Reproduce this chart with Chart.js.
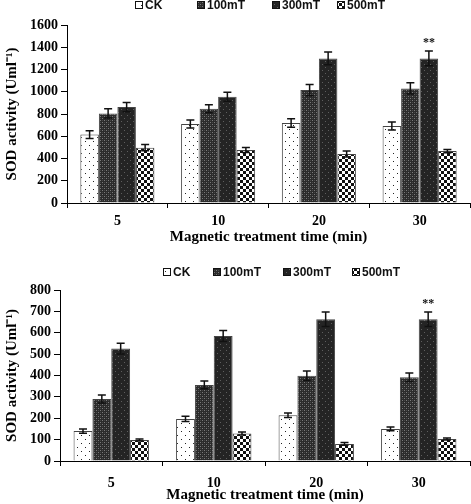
<!DOCTYPE html>
<html>
<head>
<meta charset="utf-8">
<script src="https://cdn.jsdelivr.net/npm/chart.js@4"></script>
<style>
  html, body { margin: 0; padding: 0; background: #fff; }
  .panel { position: relative; width: 471px; }
  #topWrap { height: 250px; }
  #bottomWrap { height: 254px; }
</style>
</head>
<body>
<div class="panel" id="topWrap"><canvas id="topChart"></canvas></div>
<div class="panel" id="bottomWrap"><canvas id="bottomChart"></canvas></div>
<script>
  const categories = ["5", "10", "20", "30"];
  const seriesNames = ["CK", "100mT", "300mT", "500mT"];

  // upper panel
  const topCK = [615, 710, 720, 692];
  const topCKErr = [35, 35, 38, 36];
  const top100 = [805, 847, 1015, 1030];
  const top100Err = [42, 36, 51, 51];
  const top300 = [862, 955, 1300, 1300];
  const top300Err = [42, 40, 57, 66];
  const top500 = [497, 476, 440, 467];
  const top500Err = [28, 22, 27, 15];
  const topTicks = [0, 200, 400, 600, 800, 1000, 1200, 1400, 1600];

  // lower panel
  const botCK = [140, 197, 214, 150];
  const botCKErr = [10, 12, 11, 9];
  const bot100 = [290, 356, 399, 392];
  const bot100Err = [19, 18, 22, 20];
  const bot300 = [526, 585, 663, 663];
  const bot300Err = [25, 26, 34, 34];
  const bot500 = [98, 129, 80, 103];
  const bot500Err = [5, 7, 6, 5];
  const botTicks = [0, 100, 200, 300, 400, 500, 600, 700, 800];

  const yTitle = "SOD activity (Uml\u207B\u00B9)";
  const xTitle = "Magnetic treatment time (min)";
  const starText = "**";

  function makePattern(size, draw) {
    const c = document.createElement("canvas");
    c.width = size;
    c.height = size;
    const g = c.getContext("2d");
    draw(g);
    return g.createPattern(c, "repeat");
  }

  const fills = [
    makePattern(8, (g) => {
      g.fillStyle = "#fff"; g.fillRect(0, 0, 8, 8);
      g.fillStyle = "#222"; g.fillRect(1, 1, 1, 1); g.fillRect(5, 5, 1, 1);
    }),
    makePattern(4, (g) => {
      g.fillStyle = "#2b2b2b"; g.fillRect(0, 0, 4, 4);
      g.fillStyle = "#7a7a7a"; g.fillRect(0, 0, 1, 1); g.fillRect(2, 2, 1, 1);
      g.fillStyle = "#474747"; g.fillRect(2, 0, 1, 1); g.fillRect(0, 2, 1, 1);
    }),
    makePattern(6, (g) => {
      g.fillStyle = "#242424"; g.fillRect(0, 0, 6, 6);
      g.fillStyle = "#5e5e5e"; g.fillRect(1, 1, 1, 1); g.fillRect(4, 4, 1, 1);
    }),
    makePattern(6, (g) => {
      g.fillStyle = "#fff"; g.fillRect(0, 0, 6, 6);
      g.fillStyle = "#111"; g.fillRect(0, 0, 3, 3); g.fillRect(3, 3, 3, 3);
    })
  ];

  const serif = "'Liberation Serif', 'Times New Roman', serif";

  const errorBars = {
    id: "errorBars",
    afterDatasetsDraw(chart, args, opts) {
      const { ctx } = chart;
      const y = chart.scales.y;
      ctx.save();
      ctx.strokeStyle = "#111";
      ctx.lineWidth = 1.5;
      chart.data.datasets.forEach((ds, i) => {
        chart.getDatasetMeta(i).data.forEach((bar, j) => {
          const hi = y.getPixelForValue(ds.data[j] + ds.errors[j]);
          const lo = y.getPixelForValue(ds.data[j] - ds.errors[j]);
          ctx.beginPath();
          ctx.moveTo(bar.x, hi); ctx.lineTo(bar.x, lo);
          ctx.moveTo(bar.x - 4, hi); ctx.lineTo(bar.x + 4, hi);
          ctx.moveTo(bar.x - 4, lo); ctx.lineTo(bar.x + 4, lo);
          ctx.stroke();
        });
      });
      ctx.fillStyle = "#111";
      ctx.font = "bold 12px " + serif;
      ctx.textAlign = "center";
      ctx.textBaseline = "bottom";
      (opts.marks || []).forEach((m) => {
        const ds = chart.data.datasets[m.dataset];
        const bar = chart.getDatasetMeta(m.dataset).data[m.index];
        const yy = y.getPixelForValue(ds.data[m.index] + ds.errors[m.index]);
        ctx.fillText(m.text, bar.x, yy - 2);
      });
      ctx.restore();
    }
  };

  const boxLegend = {
    id: "boxLegend",
    afterDraw(chart, args, opts) {
      const { ctx } = chart;
      ctx.save();
      ctx.font = "bold 12px 'Liberation Sans', Arial, sans-serif";
      ctx.textBaseline = "middle";
      ctx.textAlign = "left";
      chart.data.datasets.forEach((ds, i) => {
        const x = opts.xs[i];
        ctx.fillStyle = ds.backgroundColor;
        ctx.fillRect(x, opts.y - 3.5, 7, 7);
        ctx.strokeStyle = "#111";
        ctx.lineWidth = 1;
        ctx.strokeRect(x + 0.5, opts.y - 3.5, 7, 7);
        ctx.fillStyle = "#111";
        ctx.fillText(ds.label, x + 10, opts.y + 0.5);
      });
      ctx.restore();
    }
  };

  function buildDatasets(values, errors) {
    return seriesNames.map((name, i) => ({
      label: name,
      data: values[i],
      errors: errors[i],
      backgroundColor: fills[i],
      borderColor: "#444",
      borderWidth: 1,
      categoryPercentage: 0.735,
      barPercentage: 1
    }));
  }

  function buildOptions(cfg) {
    return {
      responsive: true,
      maintainAspectRatio: false,
      animation: false,
      layout: { padding: { top: cfg.top, right: 1, left: 0, bottom: 0 } },
      plugins: {
        legend: { display: false },
        tooltip: { enabled: false },
        errorBars: { marks: cfg.marks },
        boxLegend: { xs: cfg.legendXs, y: cfg.legendY }
      },
      scales: {
        x: {
          afterFit(scale) { scale.height = cfg.xHeight; },
          grid: { offset: true, drawOnChartArea: false, tickLength: 5, color: "#000" },
          border: { display: true, color: "#000", width: 1 },
          ticks: { color: "#000", padding: cfg.xPad, font: { family: serif, size: 14, weight: "bold" } },
          title: {
            display: true, text: xTitle, color: "#000",
            padding: { top: 0, bottom: cfg.xTitlePad },
            font: { family: serif, size: 15, weight: "bold" }
          }
        },
        y: {
          min: 0,
          max: cfg.ticks[cfg.ticks.length - 1],
          afterFit(scale) { scale.width = cfg.yWidth; },
          afterBuildTicks(scale) { scale.ticks = cfg.ticks.map((v) => ({ value: v })); },
          grid: { drawOnChartArea: false, tickLength: 6, color: "#000" },
          border: { display: true, color: "#000", width: 1 },
          ticks: {
            color: "#000", padding: 3,
            font: { family: serif, size: 14, weight: "bold" },
            callback(value) { return String(value); }
          },
          title: {
            display: true, text: yTitle, color: "#000",
            padding: { top: 3, bottom: 0 },
            font: { family: serif, size: 15, weight: "bold" }
          }
        }
      }
    };
  }

  new Chart(document.getElementById("topChart"), {
    type: "bar",
    data: {
      labels: categories,
      datasets: buildDatasets([topCK, top100, top300, top500], [topCKErr, top100Err, top300Err, top500Err])
    },
    options: buildOptions({
      top: 25, xHeight: 47, xPad: 5, xTitlePad: 4, yWidth: 67, ticks: topTicks,
      marks: [{ dataset: 2, index: 3, text: starText }],
      legendXs: [135, 197, 272, 337], legendY: 5
    }),
    plugins: [errorBars, boxLegend]
  });

  new Chart(document.getElementById("bottomChart"), {
    type: "bar",
    data: {
      labels: categories,
      datasets: buildDatasets([botCK, bot100, bot300, bot500], [botCKErr, bot100Err, bot300Err, bot500Err])
    },
    options: buildOptions({
      top: 40, xHeight: 43, xPad: 9, xTitlePad: 0, yWidth: 60, ticks: botTicks,
      marks: [{ dataset: 2, index: 3, text: starText }],
      legendXs: [163, 213, 283, 352], legendY: 22
    }),
    plugins: [errorBars, boxLegend]
  });
</script>
</body>
</html>
